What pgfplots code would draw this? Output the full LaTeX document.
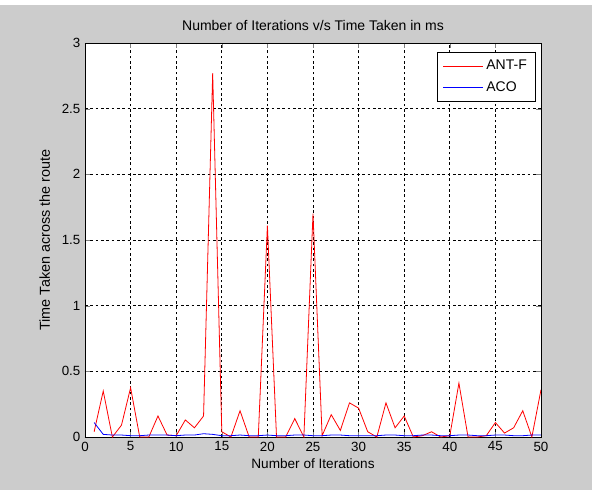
\documentclass[border=0pt]{standalone}
\usepackage{pgfplots}
\pgfplotsset{compat=1.18}
\usepackage{fontspec}
\setmainfont{Liberation Sans}
\begin{document}
\begin{tikzpicture}[x=0.75pt,y=0.75pt]
\fill[white] (-85,-53) rectangle (507,437);
\fill[gray!40] (-85,-53) rectangle (507,432);
\begin{axis}[
  at={(0,0)}, anchor=south west,
  scale only axis, width=342pt, height=295.5pt,
  xmin=0, xmax=50, ymin=0, ymax=3,
  xtick={0,5,...,50}, ytick={0,0.5,...,3},
  yticklabels={0,0.5,1,1.5,2,2.5,3},
  tick align=inside, tick pos=both,
  major tick length=4pt,
  grid=major, grid style={black, dash pattern=on 2pt off 2pt, line width=0.5pt},
  axis line style={black, line width=0.6pt},
  axis background/.style={fill=white},
  ticklabel style={font=\fontsize{10}{11}\selectfont},
  /pgf/number format/assume math mode=true,
  title={Number of Iterations v/s Time Taken in ms},
  title style={font=\fontsize{10.5}{12}\selectfont, yshift=0pt},
  xlabel={Number of Iterations},
  ylabel={Time Taken across the route},
  xlabel style={font=\fontsize{10.2}{11}\selectfont, yshift=1pt},
  ylabel style={font=\fontsize{10.8}{11}\selectfont, yshift=2pt},
  legend style={at={(0.987,0.977)}, anchor=north east, font=\fontsize{10.5}{12}\selectfont, row sep=3pt, inner xsep=4pt, inner ysep=4pt},
  legend cell align=left,
]
\addplot[red, line width=0.6pt, forget plot] coordinates {
(1,0.04) (2,0.35) (3,0.00) (4,0.09) (5,0.375) (6,0.00) (7,0.00) (8,0.16) (9,0.015) (10,0.01)
(11,0.13) (12,0.07) (13,0.16) (14,2.77) (15,0.04) (16,0.00) (17,0.20) (18,0.00) (19,0.00) (20,1.61)
(21,0.00) (22,0.00) (23,0.14) (24,0.00) (25,1.70) (26,0.01) (27,0.17) (28,0.05) (29,0.26) (30,0.22)
(31,0.04) (32,0.00) (33,0.26) (34,0.07) (35,0.16) (36,0.00) (37,0.01) (38,0.04) (39,0.00) (40,0.01)
(41,0.41) (42,0.00) (43,0.00) (44,0.01) (45,0.11) (46,0.03) (47,0.07) (48,0.20) (49,0.00) (50,0.36)
};
\addplot[blue, line width=0.6pt, forget plot] coordinates {
(1,0.11) (2,0.02) (3,0.015) (4,0.015) (5,0.01) (6,0.01) (7,0.015) (8,0.015) (9,0.015) (10,0.01)
(11,0.015) (12,0.015) (13,0.025) (14,0.02) (15,0.01) (16,0.01) (17,0.015) (18,0.01) (19,0.01) (20,0.015)
(21,0.01) (22,0.01) (23,0.015) (24,0.015) (25,0.01) (26,0.01) (27,0.015) (28,0.015) (29,0.01) (30,0.01)
(31,0.01) (32,0.01) (33,0.015) (34,0.015) (35,0.01) (36,0.01) (37,0.015) (38,0.015) (39,0.01) (40,0.01)
(41,0.015) (42,0.015) (43,0.01) (44,0.01) (45,0.015) (46,0.015) (47,0.01) (48,0.01) (49,0.015) (50,0.015)
};
\addlegendimage{legend image code/.code={\draw[red, line width=0.8pt] (0pt,0pt) -- (30pt,0pt);}}
\addlegendentry{ANT-F}
\addlegendimage{legend image code/.code={\draw[blue, line width=0.8pt] (0pt,0pt) -- (30pt,0pt);}}
\addlegendentry{ACO}
\end{axis}
\end{tikzpicture}
\end{document}
